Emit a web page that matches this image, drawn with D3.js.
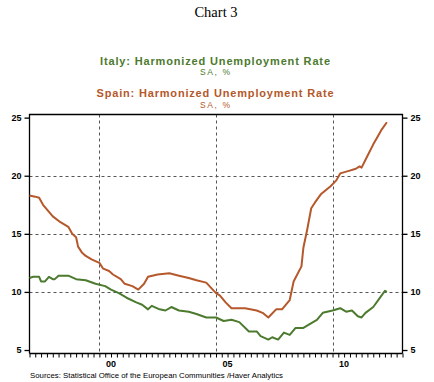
<!DOCTYPE html>
<html><head><meta charset="utf-8">
<script src="https://cdn.jsdelivr.net/npm/d3@7"></script>
<style>html,body{margin:0;padding:0;background:#fff;}svg{display:block;}</style>
</head><body>
<script>
const spainDates = ["1997-01","1997-04","1997-06","1997-08","1998-01","1998-05","1998-09","1998-11","1999-01","1999-02","1999-04","1999-06","1999-09","2000-01","2000-03","2000-06","2000-08","2000-12","2001-02","2001-06","2001-09","2001-12","2002-02","2002-07","2003-01","2003-06","2003-11","2004-03","2004-08","2005-01","2005-03","2005-06","2005-09","2006-04","2006-10","2007-01","2007-04","2007-08","2007-11","2008-03","2008-05","2008-09","2008-10","2008-12","2009-02","2009-04","2009-07","2009-12","2010-03","2010-05","2010-09","2011-01","2011-03","2011-04","2011-07","2011-10","2011-12","2012-02","2012-05"];
const spainValues = [18.3,18.2,18.1,17.5,16.5,16.0,15.6,15.0,14.7,13.9,13.4,13.1,12.8,12.5,12.0,11.8,11.5,11.1,10.7,10.5,10.2,10.7,11.3,11.5,11.6,11.4,11.2,11.0,10.8,9.9,9.7,9.1,8.6,8.6,8.4,8.2,7.8,8.5,8.5,9.3,10.9,12.2,13.8,15.4,17.2,17.7,18.4,19.1,19.6,20.2,20.4,20.6,20.8,20.7,21.7,22.7,23.3,23.9,24.6];
const italyDates = ["1997-01","1997-03","1997-06","1997-07","1997-09","1997-11","1998-01","1998-02","1998-04","1998-09","1999-01","1999-06","1999-11","2000-04","2000-07","2000-11","2001-03","2001-08","2001-11","2002-02","2002-04","2002-08","2002-11","2003-02","2003-06","2003-11","2004-03","2004-08","2005-01","2005-05","2005-09","2006-01","2006-06","2006-10","2006-12","2007-04","2007-06","2007-09","2007-12","2008-03","2008-06","2008-10","2009-01","2009-05","2009-08","2010-01","2010-05","2010-08","2010-11","2011-02","2011-04","2011-06","2011-10","2012-01","2012-04","2012-05"];
const italyValues = [11.2,11.3,11.3,10.9,10.9,11.3,11.1,11.1,11.4,11.4,11.1,11.0,10.7,10.5,10.2,9.9,9.5,9.1,8.9,8.5,8.8,8.5,8.4,8.7,8.4,8.3,8.1,7.8,7.8,7.5,7.6,7.4,6.6,6.6,6.2,5.9,6.1,5.9,6.5,6.3,6.9,6.9,7.2,7.6,8.2,8.4,8.6,8.3,8.4,7.9,7.8,8.2,8.7,9.4,10.1,10.0];
const yTicks = [5,10,15,20,25];
const yGrid = [10,15,20];
const xGridYears = [2000,2005,2010];
const xTickLabels = ["00","05","10"];
const titleText = "Chart 3";
const italyTitle = "Italy: Harmonized Unemployment Rate";
const spainTitle = "Spain: Harmonized Unemployment Rate";
const unitText = "SA, %";
const sourceText = "Sources: Statistical Office of the European Communities /Haver Analytics";

(function(){
const W = 434, H = 382;
const green = "#4c7a2e", red = "#b5582b";
const pL = 29.5, pR = 402.5, pT = 114.5, pB = 353.5;

const svg = d3.select("body").append("svg").attr("width", W).attr("height", H);

const parse = d3.timeParse("%Y-%m");
const x = d3.scaleTime().domain([new Date(1997,0,1), new Date(2013,0,1)]).range([pL, pR]);
const y = d3.scaleLinear().domain([4.7, 25.27]).range([pB, pT]);

svg.append("text").attr("x", 216).attr("y", 17).attr("text-anchor","middle")
  .attr("font-family","Liberation Serif, Times New Roman, serif").attr("font-size",14.5).attr("fill","#000").text(titleText);

const sans = "Liberation Sans, Arial, sans-serif";
svg.append("text").attr("x",215).attr("y",64.5).attr("text-anchor","middle").attr("font-family",sans)
  .attr("font-weight","bold").attr("font-size",11).attr("fill",green).attr("textLength",230).attr("lengthAdjust","spacing").text(italyTitle);
svg.append("text").attr("x",215).attr("y",75).attr("text-anchor","middle").attr("font-family",sans)
  .attr("font-size",8.5).attr("fill",green).attr("textLength",30).attr("lengthAdjust","spacing").text(unitText);
svg.append("text").attr("x",215).attr("y",97).attr("text-anchor","middle").attr("font-family",sans)
  .attr("font-weight","bold").attr("font-size",11).attr("fill",red).attr("textLength",237).attr("lengthAdjust","spacing").text(spainTitle);
svg.append("text").attr("x",215).attr("y",107.5).attr("text-anchor","middle").attr("font-family",sans)
  .attr("font-size",8.5).attr("fill",red).attr("textLength",30).attr("lengthAdjust","spacing").text(unitText);

const grid = svg.append("g").attr("stroke","#555").attr("stroke-width",1).attr("stroke-dasharray","3,3");
grid.selectAll("line.h").data(yGrid).enter().append("line")
  .attr("x1",pL).attr("x2",pR).attr("y1",d=>Math.round(y(d))+0.5).attr("y2",d=>Math.round(y(d))+0.5);
grid.selectAll("line.v").data(xGridYears).enter().append("line")
  .attr("y1",pT).attr("y2",pB).attr("x1",d=>Math.round(x(new Date(d,0,1)))+0.5).attr("x2",d=>Math.round(x(new Date(d,0,1)))+0.5);

svg.append("path").attr("d",`M${pL},${pB}V${pT}H${pR}V${pB}`).attr("fill","none").attr("stroke","#000").attr("stroke-width",1.3);

const yl = svg.append("g").attr("transform",`translate(${pL},0)`)
  .call(d3.axisLeft(y).tickValues(yTicks).tickSize(5).tickPadding(3).tickFormat(d3.format("d")));
const yr = svg.append("g").attr("transform",`translate(${pR},0)`)
  .call(d3.axisRight(y).tickValues(yTicks).tickSize(5).tickPadding(3).tickFormat(d3.format("d")));
[yl,yr].forEach(g=>{
  g.select(".domain").remove();
  g.selectAll("line").attr("stroke","#000").attr("stroke-width",1.3);
  g.selectAll("text").attr("font-family",sans).attr("font-weight","bold").attr("font-size",9).attr("fill","#000");
});

const quarters = d3.timeMonth.every(3).range(new Date(1997,0,1), new Date(2013,0,2));
const xa = svg.append("g").attr("transform",`translate(0,${pB})`)
  .call(d3.axisBottom(x).tickValues(quarters).tickSize(4).tickFormat(""));
xa.select(".domain").attr("stroke","#000").attr("stroke-width",1.3).attr("d",`M${pL},0H${pR}`);
xa.selectAll("line").attr("stroke","#000").attr("stroke-width",1);

svg.selectAll("text.xl").data(xGridYears).enter().append("text")
  .attr("x",d=>x(new Date(d,6,1))).attr("y",367).attr("text-anchor","middle")
  .attr("font-family",sans).attr("font-weight","bold").attr("font-size",9).attr("fill","#000")
  .text((d,i)=>xTickLabels[i]);

const line = d3.line().x(d=>x(d[0])).y(d=>y(d[1]));
const spain = spainDates.map((d,i)=>[parse(d),spainValues[i]]);
const italy = italyDates.map((d,i)=>[parse(d),italyValues[i]]);
svg.append("path").datum(italy).attr("d",line).attr("fill","none").attr("stroke",green).attr("stroke-width",2).attr("stroke-linejoin","round");
svg.append("path").datum(spain).attr("d",line).attr("fill","none").attr("stroke",red).attr("stroke-width",2).attr("stroke-linejoin","round");

svg.append("text").attr("x",30).attr("y",378).attr("font-family",sans).attr("font-size",8).attr("fill","#000")
  .attr("textLength",253).attr("lengthAdjust","spacingAndGlyphs").text(sourceText);
})();
</script>
</body></html>
